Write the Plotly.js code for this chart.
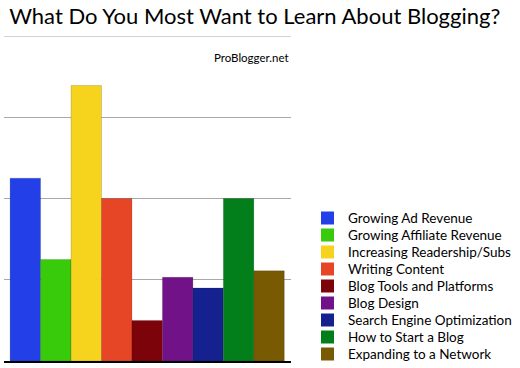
<!DOCTYPE html>
<html><head><meta charset="utf-8">
<script src="https://cdn.plot.ly/plotly-3.0.1.min.js"></script>
<style>html,body{margin:0;padding:0;background:#fff}#c{width:520px;height:368px}</style>
</head><body><div id="c"></div>
<script>
const categories = ["Growing Ad Revenue","Growing Affiliate Revenue","Increasing Readership/Subs","Writing Content","Blog Tools and Platforms","Blog Design","Search Engine Optimization","How to Start a Blog","Expanding to a Network"];
const values = [22.5, 12.5, 33.9, 20, 5, 10.3, 9, 20, 11.1];
const colors = ["#2340e8","#38cb0c","#f6d31c","#e64626","#7c0309","#721288","#14218f","#027f1a","#785a02"];
const yTicks = [0, 10, 20, 30, 40];

const traces = categories.map((c, i) => ({
  type: 'bar', x: [i], y: [values[i]], name: c, width: 1,
  marker: {color: colors[i], line: {color: 'rgba(0,0,0,0.15)', width: 1}},
  hoverinfo: 'name+y', showlegend: false
}));

const L = 4, R = 229, T = 36, B = 7, W = 520, H = 368;
const pw = W - L - R, ph = H - T - B;
const px = x => (x - L) / pw;
const py = y => (H - B - y) / ph;

const shapes = [{type: 'line', xref: 'paper', yref: 'y', x0: 0, x1: 1, y0: yTicks[yTicks.length - 1], y1: yTicks[yTicks.length - 1], line: {color: '#a8a8a8', width: 1.2}}];
const annotations = [];
categories.forEach((c, i) => {
  const cy = 218 + i * 17;
  shapes.push({type: 'rect', xref: 'paper', yref: 'paper', x0: px(321), x1: px(334), y0: py(cy + 6.5), y1: py(cy - 6.5), fillcolor: colors[i], line: {width: 0}});
  annotations.push({xref: 'paper', yref: 'paper', x: px(346), y: py(cy), xanchor: 'left', yanchor: 'middle', text: c, showarrow: false, font: {family: 'Lato', size: 13.5, color: '#000'}});
});
annotations.push({xref: 'paper', yref: 'paper', x: px(291), y: py(57), xanchor: 'right', yanchor: 'middle', text: 'ProBlogger.net', showarrow: false, font: {family: 'Lato', size: 11.5, color: '#000'}});

const layout = {
  width: W, height: H,
  margin: {l: L, r: R, t: T, b: B, pad: 0},
  paper_bgcolor: '#fff', plot_bgcolor: '#fff',
  title: {text: 'What Do You Most Want to Learn About Blogging?', x: 0.018, xanchor: 'left', xref: 'paper', y: 0.955, yanchor: 'middle', font: {family: 'Lato', size: 22, color: '#000'}},
  barmode: 'overlay', bargap: 0,
  showlegend: false,
  xaxis: {range: [-0.7, 8.72], showticklabels: false, showgrid: false, zeroline: false, ticks: '', showline: true, linecolor: '#000', linewidth: 2, fixedrange: true},
  yaxis: {range: [0, 40], tickvals: yTicks, showticklabels: false, showgrid: true, gridcolor: '#a8a8a8', gridwidth: 1.2, zeroline: false, ticks: '', fixedrange: true},
  shapes: shapes, annotations: annotations
};
Plotly.newPlot('c', traces, layout, {displayModeBar: false, staticPlot: true});
</script></body></html>
